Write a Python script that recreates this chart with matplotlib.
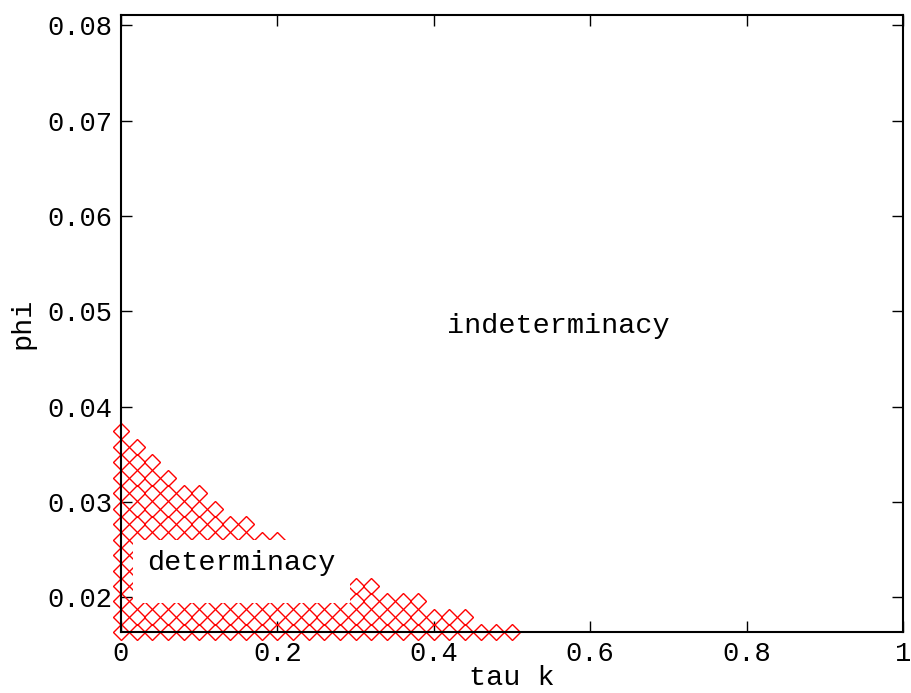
import matplotlib
matplotlib.use("Agg")
import matplotlib.pyplot as plt
from matplotlib.patches import Rectangle

# tau grid (step 0.02) and phi rows of the determinacy region
tau_grid = [0.00, 0.02, 0.04, 0.06, 0.08, 0.10, 0.12, 0.14, 0.16, 0.18, 0.20,
            0.22, 0.24, 0.26, 0.28, 0.30, 0.32, 0.34, 0.36, 0.38, 0.40, 0.42,
            0.44, 0.46, 0.48, 0.50]
phi_rows = [0.01634, 0.01796, 0.01958, 0.02120, 0.02282, 0.02444, 0.02606,
            0.02768, 0.02930, 0.03092, 0.03254, 0.03416, 0.03578, 0.03740]
# number of tau grid points flagged as determinate in each phi row
row_counts = [26, 23, 20, 17, 14, 14, 11, 9, 7, 6, 4, 3, 2, 1]

xticks = [0, 0.2, 0.4, 0.6, 0.8, 1]
xticklabels = ["0", "0.2", "0.4", "0.6", "0.8", "1"]
yticks = [0.02, 0.03, 0.04, 0.05, 0.06, 0.07, 0.08]

tau_pts = []
phi_pts = []
for phi, n in zip(phi_rows, row_counts):
    for t in tau_grid[:n]:
        tau_pts.append(t)
        phi_pts.append(phi)

plt.rcParams['font.family'] = ['Liberation Mono', 'DejaVu Sans Mono']

fig = plt.figure(figsize=(9.11, 6.93), dpi=100)
ax = fig.add_axes([0.1328, 0.0876, 0.8584, 0.8903])

ax.plot(tau_pts, phi_pts, linestyle="none", marker="D", markersize=7.8,
        markerfacecolor="none", markeredgecolor="red", markeredgewidth=1.0,
        clip_on=False, zorder=3)

ax.set_xlim(0, 1)
ax.set_ylim(0.01634, 0.08105)
ax.set_xticks(xticks)
ax.set_xticklabels(xticklabels)
ax.set_yticks(yticks)
ax.set_yticklabels([f"{v:.2f}" for v in yticks])
ax.tick_params(direction="in", length=8, width=1, top=True, right=True,
               labelsize=19.5, pad=6)
for s in ax.spines.values():
    s.set_linewidth(1.5)
    s.set_zorder(6)

ax.set_xlabel("tau k", fontsize=20.5, labelpad=-1)
ax.set_ylabel("phi", fontsize=20.5, labelpad=9)

ax.text(0.559, 0.04845, "indeterminacy", fontsize=20.5, ha="center", va="center")

# white box behind the "determinacy" label hides the markers under it
ax.add_patch(Rectangle((0.0153, 0.01938), 0.278, 0.00661, facecolor="white",
                       edgecolor="none", zorder=4))
ax.text(0.154, 0.0236, "determinacy", fontsize=20.5, ha="center", va="center",
        zorder=5)

fig.savefig("out.png", dpi=100)
